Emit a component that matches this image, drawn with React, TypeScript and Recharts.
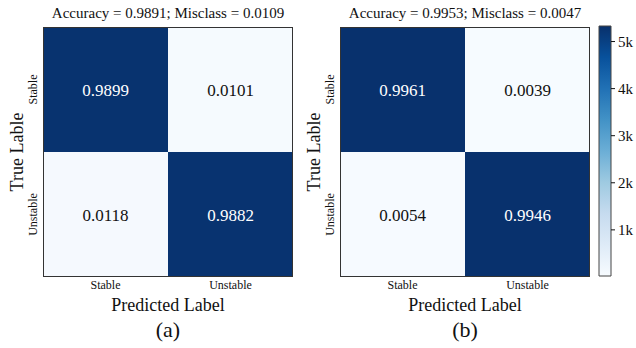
import React from 'react';
import { BarChart, Bar, XAxis, YAxis, Cell, LabelList } from 'recharts';

// class names, matrix values (row = true label, column = predicted)
const predicted = ['Stable', 'Unstable'];
const trueLabels = ['Stable', 'Unstable'];
const matrixA = [
  [0.9899, 0.0101],
  [0.0118, 0.9882],
];
const matrixB = [
  [0.9961, 0.0039],
  [0.0054, 0.9946],
];
const titleA = 'Accuracy = 0.9891; Misclass = 0.0109';
const titleB = 'Accuracy = 0.9953; Misclass = 0.0047';
const cbTicks = [1000, 2000, 3000, 4000, 5000];
const cbRange = [20, 5330];

const FONT = '"Times New Roman", "Liberation Serif", serif';

// matplotlib "Blues"
const blues = ['#f7fbff', '#deebf7', '#c6dbef', '#9ecae1', '#6baed6', '#4292c6', '#2171b5', '#08519c', '#08306b'];

const hex = (c: string) => [1, 3, 5].map((i) => parseInt(c.slice(i, i + 2), 16));
const bluesAt = (t: number) => {
  const v = Math.max(0, Math.min(1, t)) * (blues.length - 1);
  const i = Math.min(Math.floor(v), blues.length - 2);
  const f = v - i;
  const a = hex(blues[i]);
  const b = hex(blues[i + 1]);
  const c = a.map((x, k) => Math.round(x + (b[k] - x) * f));
  return `rgb(${c[0]},${c[1]},${c[2]})`;
};

const buildRows = (m: number[][]) =>
  predicted.map((p, j) => ({
    pred: p,
    cellUnstable: 1,
    cellStable: 1,
    vStable: m[0][j],
    vUnstable: m[1][j],
  }));

const cellLabel = (props: any) => {
  const { x, y, width, height, value } = props;
  return (
    <text
      x={x + width / 2}
      y={y + height / 2}
      dy={6}
      textAnchor="middle"
      fontFamily={FONT}
      fontSize={17}
      fill={value > 0.5 ? '#ffffff' : '#111111'}
    >
      {Number(value).toFixed(4)}
    </text>
  );
};

const yTick = (props: any) => {
  const { x, y, payload } = props;
  const name = payload.value > 1 ? trueLabels[0] : trueLabels[1];
  return (
    <text
      x={x}
      y={y}
      transform={`rotate(-90, ${x}, ${y})`}
      textAnchor="middle"
      fontFamily={FONT}
      fontSize={12}
      fill="#111"
    >
      {name}
    </text>
  );
};

const xTick = (props: any) => {
  const { x, y, payload } = props;
  return (
    <text x={x} y={y} dy={10} textAnchor="middle" fontFamily={FONT} fontSize={12} fill="#111">
      {payload.value}
    </text>
  );
};

const Panel: React.FC<{ left: number; matrix: number[][]; title: string; tag: string }> = ({
  left,
  matrix,
  title,
  tag,
}) => {
  const rows = buildRows(matrix);
  const W = 300;
  const plotLeft = 43;
  const plotW = 250;
  const text = (style: React.CSSProperties, s: string) => (
    <div style={{ position: 'absolute', fontFamily: FONT, color: '#111', whiteSpace: 'nowrap', ...style }}>{s}</div>
  );
  return (
    <div style={{ position: 'absolute', left, top: 0, width: W, height: 348 }}>
      <BarChart
        width={W}
        height={348}
        data={rows}
        barCategoryGap={0}
        barGap={0}
        margin={{ top: 27, bottom: 71 - 16, left: plotLeft - 16, right: W - plotLeft - plotW }}
      >
        <XAxis
          dataKey="pred"
          type="category"
          height={16}
          tickLine={false}
          axisLine={false}
          tickSize={0}
          tickMargin={2}
          tick={xTick}
        />
        <YAxis
          type="number"
          domain={[0, 2]}
          ticks={[0.5, 1.5]}
          width={16}
          tickLine={false}
          axisLine={false}
          tickSize={0}
          tickMargin={6}
          tick={yTick}
        />
        <Bar dataKey="cellUnstable" stackId="m" isAnimationActive={false}>
          {rows.map((r, i) => (
            <Cell key={`u-${i}`} fill={bluesAt(r.vUnstable)} />
          ))}
          <LabelList dataKey="vUnstable" content={cellLabel} />
        </Bar>
        <Bar dataKey="cellStable" stackId="m" isAnimationActive={false}>
          {rows.map((r, i) => (
            <Cell key={`s-${i}`} fill={bluesAt(r.vStable)} />
          ))}
          <LabelList dataKey="vStable" content={cellLabel} />
        </Bar>
      </BarChart>
      <div
        style={{
          position: 'absolute',
          left: plotLeft,
          top: 27,
          width: plotW,
          height: 250,
          border: '1px solid #333',
          boxSizing: 'border-box',
          pointerEvents: 'none',
        }}
      />
      {text({ left: plotLeft, width: plotW, top: 3, textAlign: 'center', fontSize: 15, lineHeight: '20px' }, title)}
      {text(
        {
          left: 17 - 60,
          width: 120,
          top: 152 - 11,
          textAlign: 'center',
          fontSize: 18,
          lineHeight: '22px',
          transform: 'rotate(-90deg)',
        },
        'True Lable'
      )}
      {text({ left: plotLeft, width: plotW, top: 294, textAlign: 'center', fontSize: 18, lineHeight: '22px' }, 'Predicted Label')}
      {text({ left: plotLeft, width: plotW, top: 317, textAlign: 'center', fontSize: 22, lineHeight: '26px' }, tag)}
    </div>
  );
};

const ColorBar: React.FC = () => {
  const data = [{ name: 'cb', range: cbRange }];
  return (
    <div style={{ position: 'absolute', left: 590, top: 0, width: 46, height: 348 }}>
      <BarChart width={46} height={348} data={data} barCategoryGap={0} margin={{ top: 26, bottom: 72, left: 9, right: 0 }}>
        <defs>
          <linearGradient id="bluesGrad" x1="0" y1="1" x2="0" y2="0">
            {blues.map((c, i) => (
              <stop key={c} offset={`${(i / (blues.length - 1)) * 100}%`} stopColor={c} />
            ))}
          </linearGradient>
        </defs>
        <XAxis dataKey="name" hide />
        <YAxis
          orientation="right"
          type="number"
          domain={cbRange}
          ticks={cbTicks}
          width={25}
          axisLine={false}
          tickSize={4}
          tickMargin={3}
          tickLine={{ stroke: '#111' }}
          tickFormatter={(v: number) => `${v / 1000}k`}
          tick={{ fontFamily: FONT, fontSize: 15, fill: '#111' }}
        />
        <Bar dataKey="range" fill="url(#bluesGrad)" stroke="#444" strokeWidth={1} isAnimationActive={false} />
      </BarChart>
    </div>
  );
};

export default function App() {
  return (
    <div style={{ position: 'absolute', left: 0, top: 0, width: 636, height: 348, background: '#fff', overflow: 'hidden' }}>
      <Panel left={0} matrix={matrixA} title={titleA} tag="(a)" />
      <Panel left={297} matrix={matrixB} title={titleB} tag="(b)" />
      <ColorBar />
    </div>
  );
}
